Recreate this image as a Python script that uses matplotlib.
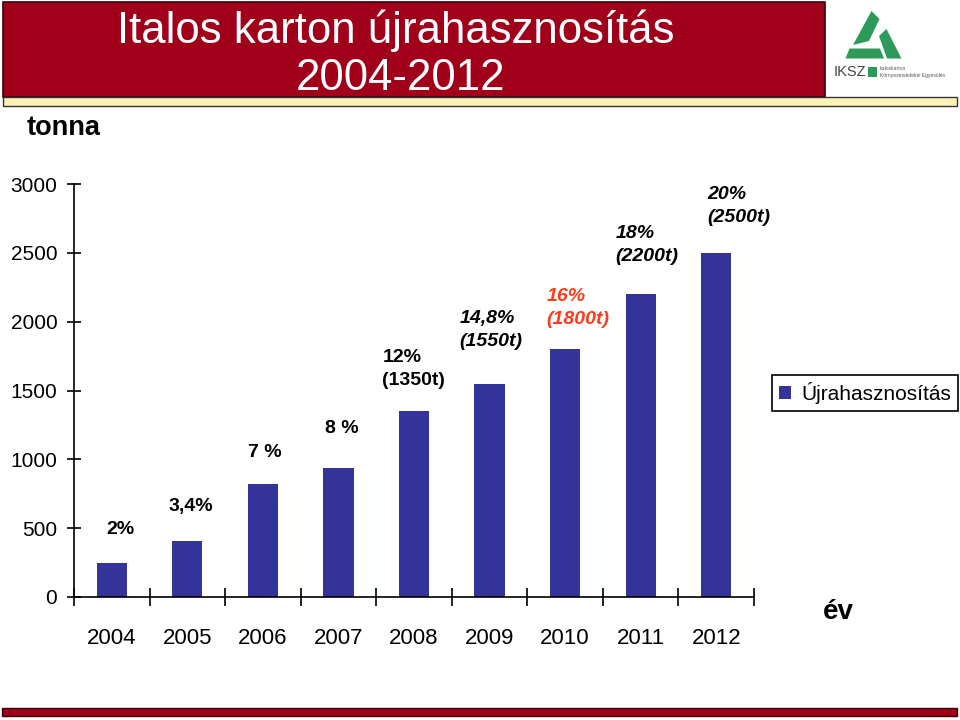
import matplotlib
matplotlib.use("Agg")
import matplotlib.pyplot as plt
from matplotlib.patches import Rectangle, Polygon

years = ["2004", "2005", "2006", "2007", "2008", "2009", "2010", "2011", "2012"]
tonnes = [250, 410, 820, 940, 1350, 1550, 1800, 2200, 2500]
bar_labels = ["2%", "3,4%", "7 %", "8 %", "12%\n(1350t)", "14,8%\n(1550t)",
              "16%\n(1800t)", "18%\n(2200t)", "20%\n(2500t)"]
yticks = [0, 500, 1000, 1500, 2000, 2500, 3000]
series_name = "Újrahasznosítás"

# label placement (data coords) and styles
label_pos = [(0.11, 487, "center"), (1.04, 654, "center"), (2.02, 1053, "center"),
             (3.04, 1227, "center"), (3.58, 1656, "left"), (4.6, 1939, "left"),
             (5.75, 2099, "left"), (6.67, 2556, "left"), (7.88, 2840, "left")]
label_italic = [False, False, False, False, False, True, True, True, True]
label_color = ["black"] * 6 + ["#ff3a1a"] + ["black"] * 2

NARROW = ["Liberation Sans Narrow", "Liberation Sans", "DejaVu Sans"]
ARIAL = ["Liberation Sans", "DejaVu Sans"]
RED = "#a0001a"
BAR = "#333399"

W, H = 960, 720
fig = plt.figure(figsize=(9.6, 7.2), dpi=100)
fig.patch.set_facecolor("white")

def fx(px):
    return px / W

def fy(py):
    return 1 - py / H

# header
fig.patches.append(Rectangle((fx(3), fy(97)), fx(822), 95 / H, transform=fig.transFigure,
                             facecolor=RED, edgecolor="#3a0008", lw=1.2))
fig.patches.append(Rectangle((fx(3), fy(106)), fx(954), 9 / H, transform=fig.transFigure,
                             facecolor="#fff2b8", edgecolor="#333333", lw=1.0))
fig.text(fx(396), fy(31), "Italos karton újrahasznosítás", color="white", fontsize=31.5,
         family=NARROW, ha="center", va="center")
fig.text(fx(401), fy(79), "2004-2012", color="white", fontsize=31.5,
         family=NARROW, ha="center", va="center")

# logo
green = "#2e9a5a"
logo_pieces = [
    [(871.5, 11), (879.5, 19), (869, 41), (853, 45)],
    [(849.5, 48.5), (880, 48.5), (884, 58.5), (845.5, 58.5)],
    [(879, 36), (886.5, 29), (901.5, 58.5), (887, 58.5)],
]
for pts in logo_pieces:
    fig.patches.append(Polygon([(fx(a), fy(b)) for a, b in pts], closed=True,
                               transform=fig.transFigure, facecolor=green, edgecolor="none"))
fig.patches.append(Rectangle((fx(868), fy(77)), fx(9), 10 / H, transform=fig.transFigure,
                             facecolor=green, edgecolor="none"))
fig.text(fx(834), fy(72), "IKSZ", color="#444444", fontsize=10.5, family=NARROW,
         ha="left", va="center")
fig.text(fx(880), fy(72), "Italoskarton\nKörnyezetvédelmi Egyesülés", color="#555555",
         fontsize=3.6, family=ARIAL, ha="left", va="center", linespacing=1.6)

# bottom stripe
fig.patches.append(Rectangle((fx(2), fy(716)), fx(955), 8 / H, transform=fig.transFigure,
                             facecolor=RED, edgecolor="#3a0008", lw=1.0))

# chart
ax = fig.add_axes([fx(74), fy(597), fx(754 - 74), (597 - 184) / H])
x = list(range(len(years)))
ax.bar(x, tonnes, width=0.4, color=BAR, label=series_name, zorder=2)
ax.set_xlim(-0.5, len(years) - 0.5)
ax.set_ylim(0, 3000)

for sp in ["top", "right"]:
    ax.spines[sp].set_visible(False)
for sp in ["left", "bottom"]:
    ax.spines[sp].set_linewidth(1.2)

ax.set_yticks(yticks)
ax.set_yticklabels([str(v) for v in yticks], family=NARROW, fontsize=15)
ax.tick_params(axis="y", direction="inout", length=10, width=1.2, pad=7)

ax.set_xticks(x)
ax.set_xticklabels(years, family=NARROW, fontsize=16)
ax.tick_params(axis="x", which="major", length=0, pad=22)
ax.set_xticks([i - 0.5 for i in range(len(years) + 1)], minor=True)
ax.tick_params(axis="x", which="minor", direction="inout", length=13, width=1.2)

for txt, (lx, ly, ha), it, col in zip(bar_labels, label_pos, label_italic, label_color):
    ax.text(lx, ly, txt, ha=ha, va="center", fontsize=14, fontweight="bold",
            style="italic" if it else "normal", color=col, family=ARIAL,
            linespacing=1.45)

fig.text(fx(27), fy(128), "tonna", fontsize=19.5, fontweight="bold", family=ARIAL,
         ha="left", va="center")
fig.text(fx(823), fy(612), "év", fontsize=20, fontweight="bold", family=ARIAL,
         ha="left", va="center")

leg = fig.legend(loc="center left", bbox_to_anchor=(fx(772), fy(393)),
                 prop={"family": NARROW, "size": 15}, fancybox=False,
                 edgecolor="black", framealpha=1, handlelength=0.55, handleheight=0.55,
                 handletextpad=0.5, borderpad=0.35, borderaxespad=0)
leg.get_frame().set_linewidth(1.2)

fig.savefig("out.png", dpi=100)
